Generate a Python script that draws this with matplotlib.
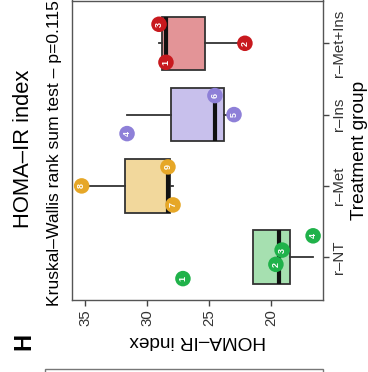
import matplotlib
matplotlib.use("Agg")
import matplotlib.pyplot as plt
from matplotlib.patches import Rectangle
import numpy as np

plt.rcParams['font.family'] = ['Liberation Sans', 'DejaVu Sans']

# ---- data ----
groups = ["r–NT", "r–Met", "r–Ins", "r–Met+Ins"]
ids_nt = [1, 2, 3, 4]
vals_nt = [27.1, 19.6, 19.1, 16.6]
ids_met = [7, 8, 9]
vals_met = [27.9, 35.27, 28.31]
ids_ins = [4, 5, 6]
vals_ins = [31.61, 22.98, 24.52]
ids_metins = [1, 2, 3]
vals_metins = [28.47, 22.1, 29.03]
value_ticks = [20, 25, 30, 35]

point_colors = ["#20b24a", "#e6a727", "#8e80d8", "#c8191e"]
fill_colors = ["#a6e0b0", "#f2d89c", "#c8c0ec", "#e39497"]

all_ids = [ids_nt, ids_met, ids_ins, ids_metins]
all_vals = [vals_nt, vals_met, vals_ins, vals_metins]

W, H = 368, 372
fig = plt.figure(figsize=(W / 100, H / 100), dpi=100)
ax = fig.add_axes([72 / W, 1 - 300 / H, (323 - 72) / W, (300 - 0.5) / H])

pos = np.arange(1, len(groups) + 1)
bp = ax.boxplot(all_vals, positions=pos, orientation='horizontal', widths=0.75,
                whis=1.5, showfliers=False, showcaps=False, patch_artist=True,
                medianprops=dict(color='#111111', linewidth=3, solid_capstyle='butt'),
                whiskerprops=dict(color='#333333', linewidth=1.3),
                boxprops=dict(edgecolor='#333333', linewidth=1.3))
for patch, fc in zip(bp['boxes'], fill_colors):
    patch.set_facecolor(fc)

# dodged labelled points
for gi, (ids, vals) in enumerate(zip(all_ids, all_vals)):
    n = len(ids)
    order = np.argsort(ids)
    for k, idx in enumerate(order):
        off = -0.4 + 0.8 * (k + 0.5) / n
        yv = pos[gi] + off
        ax.scatter(vals[idx], yv, s=125, color=point_colors[gi], zorder=5,
                   edgecolors='none')
        ax.text(vals[idx], yv, str(ids[idx]), color='white', fontsize=6.5,
                fontweight='bold', rotation=90, ha='center', va='center',
                zorder=6)

ax.set_xlim(36.05, 15.8)
ax.set_ylim(0.4, 4.6)
ax.set_xticks(value_ticks)
ax.set_xticklabels([str(v) for v in value_ticks], rotation=90, fontsize=10.8,
                   color='#333333')
ax.yaxis.tick_right()
ax.set_yticks(pos)
ax.set_yticklabels(groups, rotation=90, va='center', fontsize=10.8,
                   color='#333333')
ax.tick_params(axis='both', length=4, width=1, color='#444444', pad=2.5)
for sp in ax.spines.values():
    sp.set_color('#555555')
    sp.set_linewidth(1)

# texts
fig.text(24 / W, 1 - 148.5 / H, "HOMA–IR index", rotation=90, fontsize=15.8,
         ha='center', va='center')
fig.text(54.5 / W, 1 - 306 / H, "Kruskal–Wallis rank sum test – p=0.115",
         rotation=90, fontsize=12.6, ha='center', va='bottom')
fig.text(198 / W, 1 - 341 / H, "HOMA–IR index", rotation=180, fontsize=13.7,
         ha='center', va='center')
fig.text(351 / W, 1 - 150 / H, "Treatment group", rotation=90, fontsize=13.7,
         ha='left', va='center')
fig.text(24 / W, 1 - 341.5 / H, "H", rotation=90, fontsize=17,
         fontweight='bold', ha='center', va='center')

# frame of neighbouring panel
fig.patches.append(Rectangle((45 / W, -0.1), (323 - 45) / W, 0.1 + 3 / H,
                             transform=fig.transFigure, fill=False,
                             edgecolor='#777777', linewidth=1))

fig.savefig("out.png", dpi=100)
